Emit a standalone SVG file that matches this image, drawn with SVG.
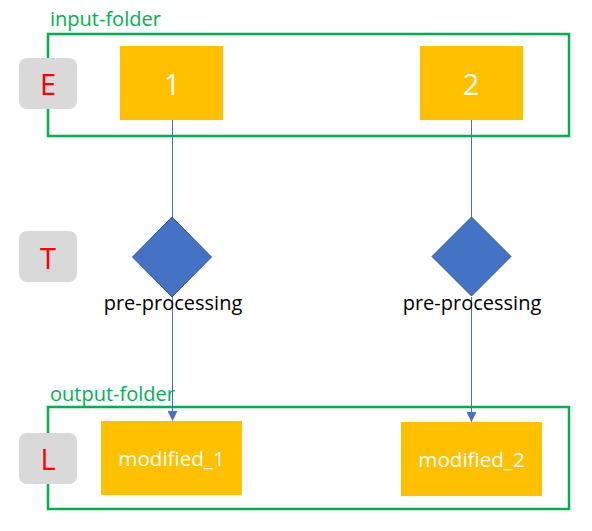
<svg xmlns="http://www.w3.org/2000/svg" width="592" height="531" viewBox="0 0 592 531">
<defs>
<marker id="arr" markerWidth="11" markerHeight="10" refX="10" refY="5" orient="auto" markerUnits="userSpaceOnUse">
<path d="M0,0 L10,5 L0,10 Z" fill="#4472C4"/>
</marker>
</defs>
<style>
.folder{fill:none;stroke:#00B050;stroke-width:2.5}
.flabel{font-family:"Open Sans","Liberation Sans",sans-serif;font-size:20px;fill:#00B050}
.stage{fill:#D9D9D9}
.stxt{font-family:"Open Sans","Liberation Sans",sans-serif;font-size:29px;fill:#FF0000;text-anchor:middle}
.file{fill:#FFC000}
.num{font-family:"Open Sans","Liberation Sans",sans-serif;font-size:29px;fill:#FFFFFF;text-anchor:middle}
.mod{font-family:"Open Sans","Liberation Sans",sans-serif;font-size:20.6px;fill:#FFFFFF;text-anchor:middle}
.dia{fill:#4472C4;stroke:#2F528F;stroke-width:1}
.ptxt{font-family:"Open Sans","Liberation Sans",sans-serif;font-size:20px;fill:#000000;text-anchor:middle}
.conn{stroke:#4472C4;stroke-width:1;fill:none}
</style>
<rect width="592" height="531" fill="#FFFFFF"/>
<g id="input-folder">
<rect class="folder" x="48" y="34" width="521" height="102"/>
<text class="flabel" x="50" y="26">input-folder</text>
</g>
<g id="output-folder">
<rect class="folder" x="48" y="407" width="521" height="102"/>
<text class="flabel" x="50" y="401">output-folder</text>
</g>
<g id="connectors">
<line class="conn" x1="172.5" y1="120" x2="172.5" y2="217"/>
<line class="conn" x1="172.5" y1="297" x2="172.5" y2="421" marker-end="url(#arr)"/>
<line class="conn" x1="471.5" y1="120" x2="471.5" y2="217"/>
<line class="conn" x1="471.5" y1="297" x2="471.5" y2="422" marker-end="url(#arr)"/>
</g>
<g id="stage-E">
<rect class="stage" x="19" y="58" width="58" height="51" rx="8"/>
<text class="stxt" x="48" y="95">E</text>
</g>
<g id="stage-T">
<rect class="stage" x="19" y="231" width="58" height="51" rx="8"/>
<text class="stxt" x="48" y="269">T</text>
</g>
<g id="stage-L">
<rect class="stage" x="19" y="433" width="58" height="51" rx="8"/>
<text class="stxt" x="48" y="470">L</text>
</g>
<g id="file-1">
<rect class="file" x="120" y="46" width="103" height="74"/>
<text class="num" x="172" y="95">1</text>
</g>
<g id="file-2">
<rect class="file" x="420" y="46" width="103" height="74"/>
<text class="num" x="471" y="95">2</text>
</g>
<g id="pre-processing-1">
<polygon class="dia" points="172,217 211.5,257 172,297 132.5,257"/>
<text class="ptxt" x="173" y="310">pre-processing</text>
</g>
<g id="pre-processing-2">
<polygon class="dia" points="471.5,217 511,256.5 471.5,296 432,256.5"/>
<text class="ptxt" x="472" y="310">pre-processing</text>
</g>
<g id="modified-1">
<rect class="file" x="101" y="421" width="141" height="74"/>
<text class="mod" x="171.5" y="466">modified_1</text>
</g>
<g id="modified-2">
<rect class="file" x="401" y="422" width="141" height="74"/>
<text class="mod" x="471.5" y="467">modified_2</text>
</g>
</svg>
